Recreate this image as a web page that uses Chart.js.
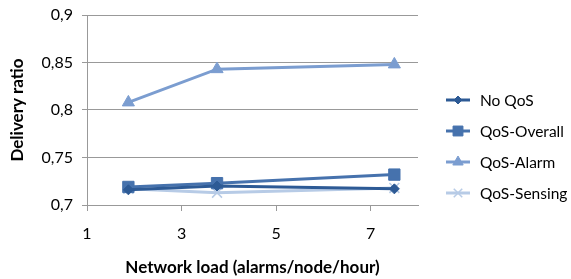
<!DOCTYPE html>
<html>
<head>
<meta charset="utf-8">
<script src="https://cdn.jsdelivr.net/npm/chart.js@4/dist/chart.umd.min.js"></script>
<style>
  body { margin: 0; background: #fff; }
  #wrap { width: 571px; height: 279px; }
</style>
</head>
<body>
<div id="wrap"><canvas id="line-chart" width="571" height="279"></canvas></div>
<script>
// data
var loads = [1.875, 3.75, 7.5];
var noQos = [0.716, 0.720, 0.717];
var qosOverall = [0.719, 0.723, 0.732];
var qosAlarm = [0.808, 0.843, 0.848];
var qosSensing = [0.717, 0.713, 0.718];
var seriesNames = ['No QoS', 'QoS-Overall', 'QoS-Alarm', 'QoS-Sensing'];
var xTicks = [1, 3, 5, 7];
var yTicks = [0.7, 0.75, 0.8, 0.85, 0.9];

var font = "Lato, 'Liberation Sans', sans-serif";

function pts(vals) {
  return vals.map(function(v, i) { return { x: loads[i], y: v }; });
}

function commaNum(v) {
  return String(parseFloat(v.toFixed(2))).replace('.', ',');
}

var styles = [
  { color: '#2d5a95', point: 'rectRot', r: 5, lr: 4 },
  { color: '#4672ad', point: 'rect', r: 8, lr: 7 },
  { color: '#7b9dd0', point: 'triangle', r: 7, lr: 6 },
  { color: '#b7cbe6', point: 'crossRot', r: 7, lr: 6 }
];
var values = [noQos, qosOverall, qosAlarm, qosSensing];

var datasets = values.map(function(vals, i) {
  var s = styles[i];
  return {
    label: seriesNames[i],
    data: pts(vals),
    borderColor: s.color,
    backgroundColor: s.color,
    borderWidth: 3,
    pointStyle: s.point,
    pointRadius: s.r,
    pointBorderWidth: s.point === 'crossRot' ? 1.5 : 1,
    pointBorderColor: s.color,
    pointBackgroundColor: s.color,
    tension: 0
  };
});

// legend drawn like the office one: short line with the marker on it
var sideLegend = {
  id: 'sideLegend',
  afterDraw: function(chart) {
    var c = chart.ctx;
    var y0 = 100, step = 31;
    chart.data.datasets.forEach(function(ds, i) {
      var y = y0 + i * step;
      c.save();
      c.strokeStyle = ds.borderColor;
      c.lineWidth = 3;
      c.beginPath();
      c.moveTo(446, y);
      c.lineTo(470, y);
      c.stroke();
      c.fillStyle = ds.backgroundColor;
      c.lineWidth = ds.pointBorderWidth;
      Chart.helpers.drawPoint(c, { pointStyle: ds.pointStyle, radius: styles[i].lr, borderWidth: ds.pointBorderWidth }, 458, y);
      c.fillStyle = '#000';
      c.font = "15.5px " + font;
      c.textBaseline = 'middle';
      c.textAlign = 'left';
      c.fillText(ds.label, 480, y + 1);
      c.restore();
    });
  }
};

new Chart(document.getElementById('line-chart'), {
  type: 'line',
  data: { datasets: datasets },
  options: {
    responsive: false,
    animation: false,
    layout: { padding: { top: 15, right: 153, left: 0, bottom: 0 } },
    plugins: {
      legend: { display: false },
      tooltip: { enabled: false }
    },
    scales: {
      x: {
        type: 'linear',
        min: 1,
        max: 8,
        afterBuildTicks: function(axis) {
          axis.ticks = xTicks.map(function(v) { return { value: v }; });
        },
        afterFit: function(axis) {
          axis.height = 74;
          axis.paddingLeft = 0;
          axis.paddingRight = 0;
        },
        border: { color: '#999', width: 1 },
        grid: { drawOnChartArea: false, tickLength: 6, color: '#999' },
        ticks: { color: '#000', font: { family: font, size: 16 }, padding: 13, maxRotation: 0 },
        title: {
          display: true,
          text: 'Network load (alarms/node/hour)',
          color: '#000',
          font: { family: font, size: 17, weight: 'bold' },
          padding: { top: 0, bottom: 1 }
        }
      },
      y: {
        min: 0.7,
        max: 0.9,
        afterBuildTicks: function(axis) {
          axis.ticks = yTicks.map(function(v) { return { value: v }; });
        },
        afterFit: function(axis) {
          axis.width = 87;
          axis.paddingTop = 0;
          axis.paddingBottom = 0;
        },
        border: { color: '#999', width: 1 },
        grid: { color: '#999', tickLength: 5 },
        ticks: {
          color: '#000',
          font: { family: font, size: 16 },
          padding: 9,
          callback: function(v) { return commaNum(v); }
        },
        title: {
          display: true,
          text: 'Delivery ratio',
          color: '#000',
          font: { family: font, size: 17, weight: 'bold' },
          padding: { top: 7, bottom: 0 }
        }
      }
    }
  },
  plugins: [sideLegend]
});
</script>
</body>
</html>
